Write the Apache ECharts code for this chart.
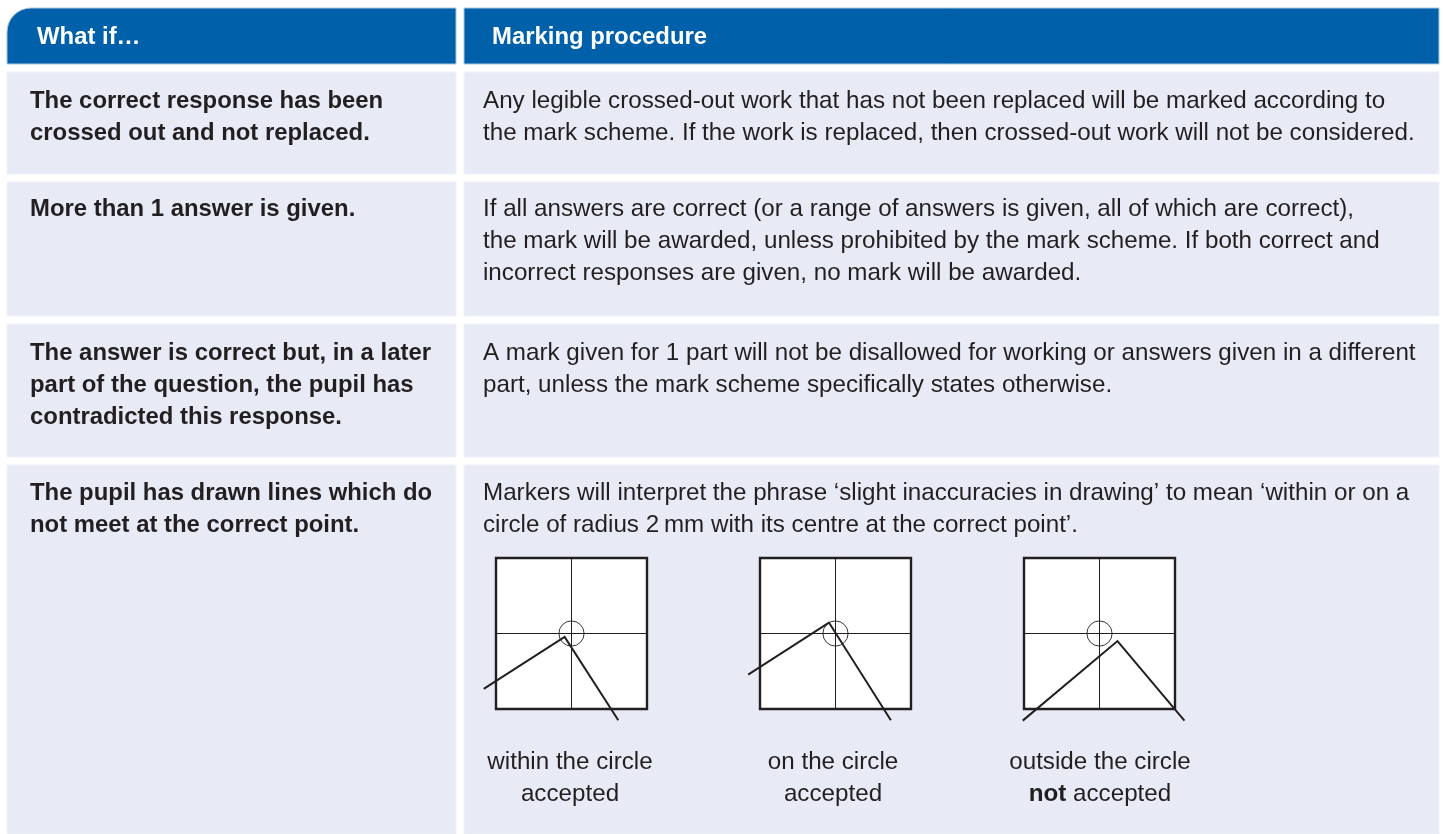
<!DOCTYPE html>
<html lang="en">
<head>
<meta charset="utf-8">
<title>Marking procedure</title>
<style>
  html, body { margin: 0; padding: 0; background: #fff; overflow: hidden; }
  #main { width: 1443px; height: 834px; }
</style>
</head>
<body>
<div id="main"></div>
<script src="https://cdn.jsdelivr.net/npm/echarts@6/dist/echarts.min.js"></script>
<script>
// table text
const headers = ["What if…", "Marking procedure"];
const whatIfRows = [
  "The correct response has been\ncrossed out and not replaced.",
  "More than 1 answer is given.",
  "The answer is correct but, in a later\npart of the question, the pupil has\ncontradicted this response.",
  "The pupil has drawn lines which do\nnot meet at the correct point.",
];
const procedureRows = [
  "Any legible crossed-out work that has not been replaced will be marked according to\nthe mark scheme. If the work is replaced, then crossed-out work will not be considered.",
  "If all answers are correct (or a range of answers is given, all of which are correct),\nthe mark will be awarded, unless prohibited by the mark scheme. If both correct and\nincorrect responses are given, no mark will be awarded.",
  "A mark given for 1 part will not be disallowed for working or answers given in a different\npart, unless the mark scheme specifically states otherwise.",
  "Markers will interpret the phrase ‘slight inaccuracies in drawing’ to mean ‘within or on a\ncircle of radius 2\u2009mm with its centre at the correct point’.",
];
const captions = [
  "within the circle\naccepted",
  "on the circle\naccepted",
  "outside the circle\n{b|not} accepted",
];

// diagrams, in mm from the correct point
const squareExtent = 12;
const circleRadius = 2;
const withinLines = [[-13.95, -8.8], [-1.09, -0.54], [7.44, -13.8]];
const onLines = [[-13.88, -6.54], [-1.04, 1.74], [8.8, -13.8]];
const outsideLines = [[-12.2, -13.85], [2.86, -1.2], [13.5, -13.85]];
const diagramLines = [withinLines, onLines, outsideLines];

// layout
const colLeft = [7, 464];
const colRight = [456, 1439];
const headTop = 8;
const headBottom = 64;
const rowTop = [72, 182, 324, 465];
const rowBottom = [174, 316, 457, 834];
const firstLineY = [101, 209, 353, 493];
const diagramLeft = [496, 760, 1024];
const captionX = [570, 833, 1100];
const ink = "#231f20";
const fontFamily = "'Liberation Sans', Arial, sans-serif";
const lineGap = 32;
const boldSize = 23.9;
const plainSize = 24.2;

const myChart = echarts.init(document.querySelector("#main"));

function cellRect(x1, y1, x2, y2, fill, stroke, extra) {
  return {
    type: "rect",
    z: -1,
    shape: Object.assign({ x: x1, y: y1, width: x2 - x1, height: y2 - y1 }, extra),
    style: { fill, stroke, lineWidth: 1 },
  };
}

function textBlock(x, y, text, fontSize, fontWeight, fill, align) {
  return {
    type: "text",
    x,
    y,
    style: {
      text,
      fill,
      fontSize,
      fontWeight,
      fontFamily,
      lineHeight: lineGap,
      align: align || "left",
      verticalAlign: "top",
      rich: {
        b: { fontWeight: "bold", fontSize, fontFamily, fill, lineHeight: lineGap },
      },
    },
  };
}

function buildGraphic() {
  const items = [];
  // header
  headers.forEach((title, i) => {
    items.push(
      cellRect(colLeft[i], headTop, colRight[i], headBottom, "#0060a9", "#a9c8e4", i === 0 ? { r: [24, 0, 0, 0] } : {})
    );
    items.push(textBlock(colLeft[i] + (i === 0 ? 30 : 28), 21, title, boldSize, "bold", "#fff"));
  });
  // body rows
  rowTop.forEach((top, r) => {
    colLeft.forEach((left, c) => {
      items.push(cellRect(left, top, colRight[c], rowBottom[r], "#e8eaf6", "#f1f2fa"));
    });
    items.push(textBlock(30, firstLineY[r] - lineGap / 2, whatIfRows[r], boldSize, "bold", ink));
    items.push(textBlock(483, firstLineY[r] - lineGap / 2, procedureRows[r], plainSize, "normal", ink));
  });
  // captions
  captions.forEach((text, i) => {
    items.push(textBlock(captionX[i], 746, text, plainSize, "normal", ink, "center"));
  });
  return items;
}

function renderCircle(params, api) {
  const c = api.coord([api.value(0), api.value(1)]);
  const r = api.size([api.value(2), 0])[0];
  return {
    type: "circle",
    shape: { cx: c[0], cy: c[1], r },
    style: { fill: "none", stroke: ink, lineWidth: 0.9 },
  };
}

// 线要伸出方框，line 系列会按 x 方向裁剪，所以用 custom 画折线
function renderPolyline(lines) {
  return function (params, api) {
    if (params.dataIndex !== 0) return null;
    return {
      type: "polyline",
      shape: { points: lines.map((p) => api.coord(p)) },
      style: { fill: "none", stroke: ink, lineWidth: 2, lineJoin: "miter" },
    };
  };
}

const option = {
  animation: false,
  backgroundColor: "#fff",
  graphic: buildGraphic(),
  grid: diagramLeft.map((left) => ({
    show: true,
    left,
    top: 558,
    width: 151,
    height: 151,
    backgroundColor: "#fff",
    borderColor: ink,
    borderWidth: 2.4,
  })),
  xAxis: diagramLines.map((_, i) => ({
    type: "value",
    gridIndex: i,
    min: -squareExtent,
    max: squareExtent,
    axisLine: { show: true, onZero: true, lineStyle: { color: ink, width: 1 } },
    axisTick: { show: false },
    axisLabel: { show: false },
    splitLine: { show: false },
  })),
  yAxis: diagramLines.map((_, i) => ({
    type: "value",
    gridIndex: i,
    min: -squareExtent,
    max: squareExtent,
    axisLine: { show: true, onZero: true, lineStyle: { color: ink, width: 1 } },
    axisTick: { show: false },
    axisLabel: { show: false },
    splitLine: { show: false },
  })),
  series: diagramLines.flatMap((lines, i) => [
    {
      type: "custom",
      xAxisIndex: i,
      yAxisIndex: i,
      silent: true,
      renderItem: renderCircle,
      data: [[0, 0, circleRadius]],
    },
    {
      type: "custom",
      xAxisIndex: i,
      yAxisIndex: i,
      silent: true,
      renderItem: renderPolyline(lines),
      data: lines,
    },
  ]),
};
myChart.setOption(option);
</script>
</body>
</html>
